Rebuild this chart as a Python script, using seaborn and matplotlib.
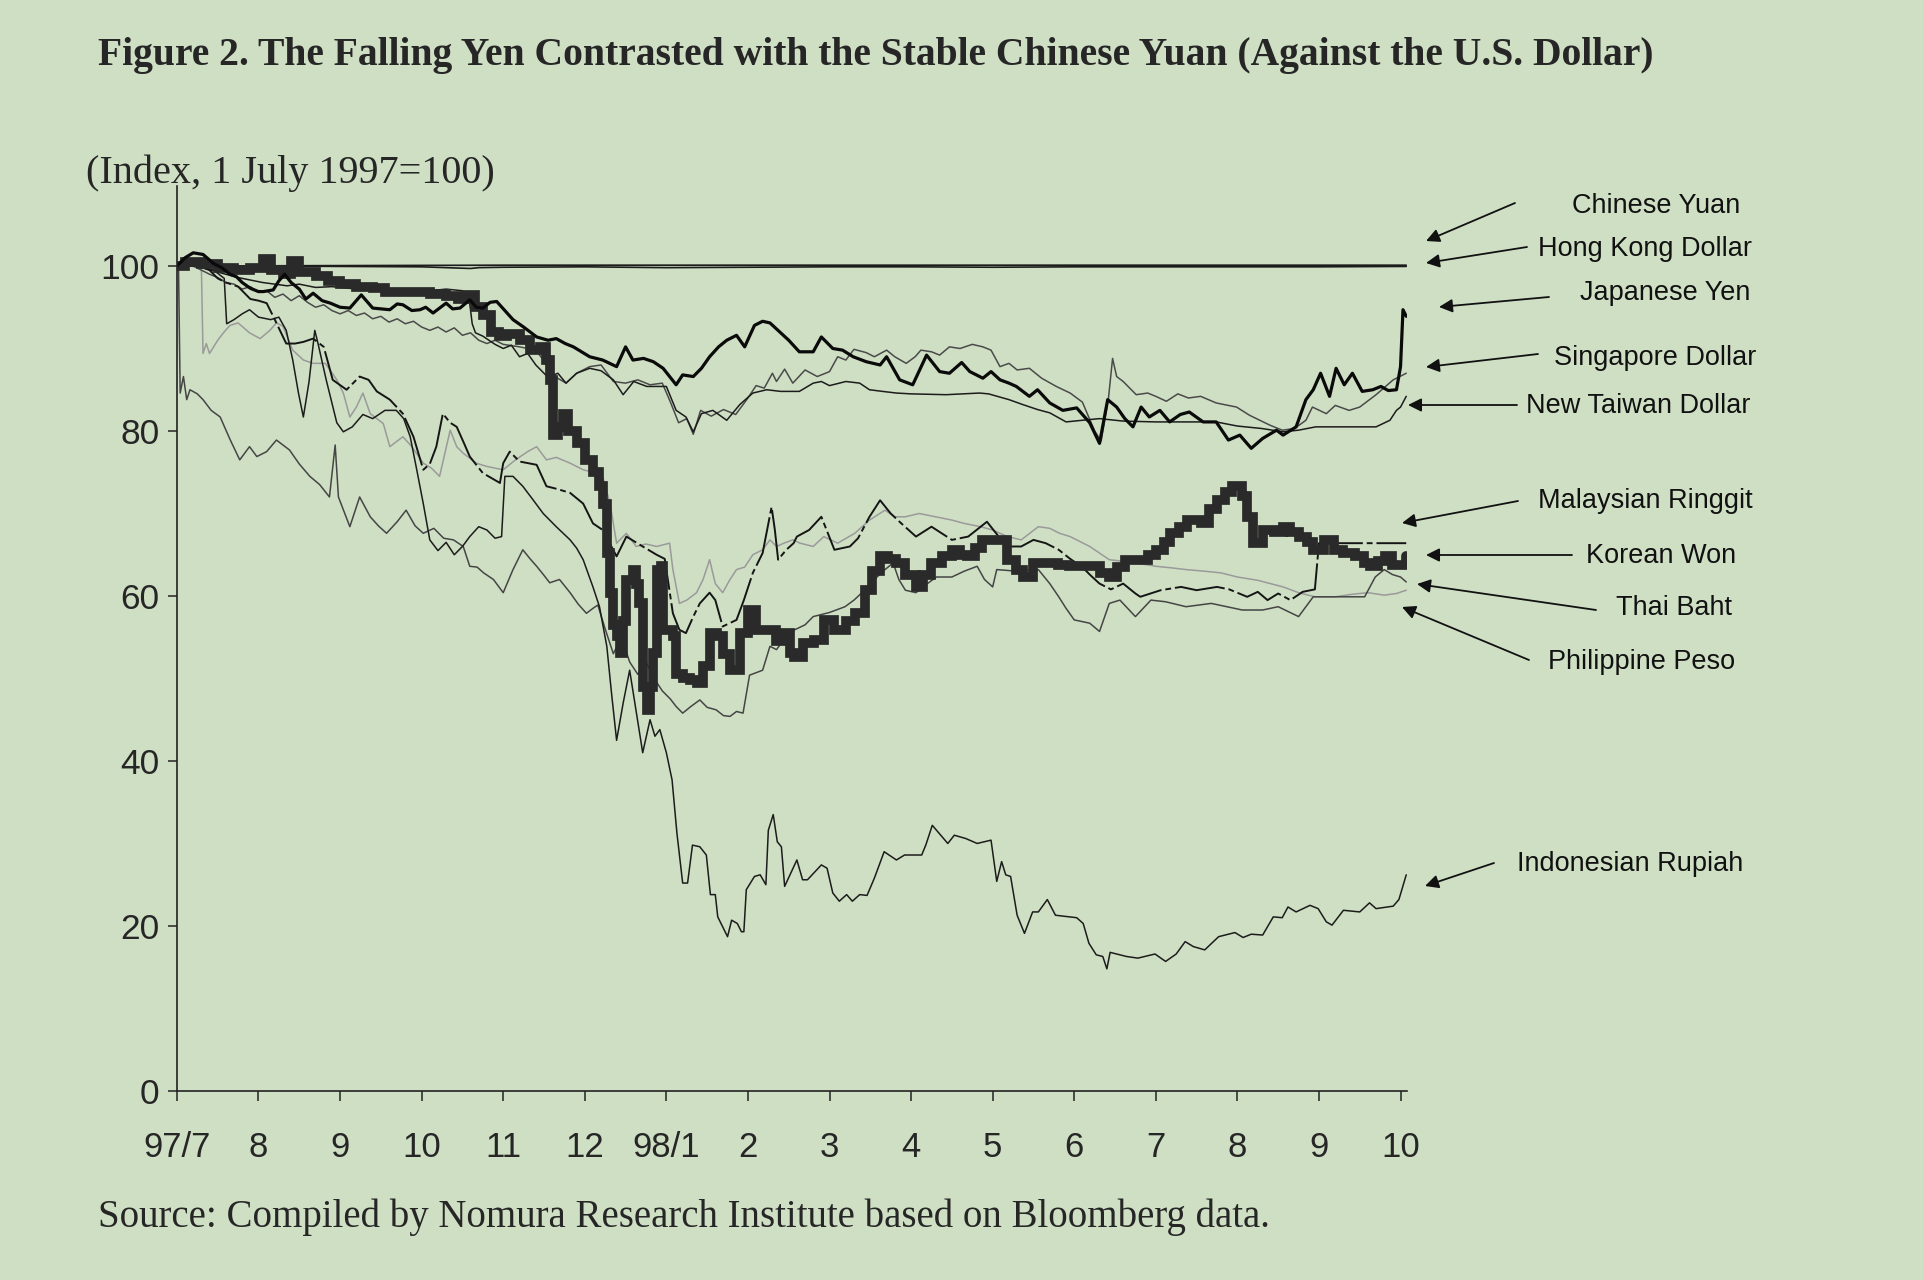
import matplotlib
matplotlib.use("Agg")
import matplotlib.pyplot as plt
import seaborn as sns
import pandas as pd

# months since 1997/7 (0 = 1 July 1997), index 1 July 1997 = 100
month_labels = ["97/7", "8", "9", "10", "11", "12", "98/1", "2", "3", "4", "5", "6", "7", "8", "9", "10"]
y_ticks = [0, 20, 40, 60, 80, 100]

chinese_yuan = [(0, 100.0), (2, 100.05), (4, 100.1), (6, 100.1), (8, 100.1), (10, 100.1),
                (12, 100.1), (14, 100.1), (15.07, 100.1)]

hk_dollar = [(0, 100.0), (1, 100.0), (2, 99.95), (3, 99.9), (3.6, 99.7), (3.7, 99.8), (4, 99.85),
             (5, 99.9), (6, 99.8), (7, 99.85), (8, 99.9), (9, 99.9), (10, 99.85), (11, 99.9),
             (12, 99.9), (13, 99.9), (14, 99.9), (15.07, 99.95)]

japanese_yen = [(0, 100), (0.1, 101.0), (0.2, 101.6), (0.32, 101.4), (0.45, 100.3), (0.55, 99.8),
                (0.65, 99.0), (0.73, 98.7), (0.8, 98.0), (0.9, 97.3), (1.0, 96.9), (1.06, 96.9),
                (1.18, 97.1), (1.25, 98.2), (1.32, 99.0), (1.4, 98.0), (1.5, 97.2), (1.58, 96.0),
                (1.67, 96.7), (1.78, 95.8), (1.88, 95.5), (2.0, 95.0), (2.12, 94.9), (2.26, 96.5),
                (2.4, 94.9), (2.5, 94.8), (2.61, 94.7), (2.7, 95.4), (2.77, 95.3), (2.88, 94.6),
                (2.98, 94.7), (3.05, 95.0), (3.14, 94.3), (3.22, 94.9), (3.3, 95.5), (3.38, 94.8),
                (3.47, 94.9), (3.59, 95.9), (3.67, 95.0), (3.75, 94.9), (3.84, 95.6), (3.92, 95.7),
                (4.02, 94.6), (4.12, 93.5), (4.25, 92.6), (4.41, 91.4), (4.55, 91.0), (4.65, 91.2),
                (4.76, 90.6), (4.86, 90.2), (4.96, 89.6), (5.06, 89.0), (5.22, 88.6), (5.39, 87.8),
                (5.5, 90.2), (5.59, 88.6), (5.72, 88.8), (5.84, 88.4), (5.96, 87.6), (6.12, 85.6),
                (6.2, 86.8), (6.33, 86.6), (6.43, 87.6), (6.53, 89.0), (6.64, 90.2), (6.74, 91.0),
                (6.86, 91.6), (6.96, 90.2), (7.08, 92.8), (7.18, 93.3), (7.27, 93.1), (7.39, 92.0),
                (7.5, 91.0), (7.63, 89.6), (7.8, 89.6), (7.9, 91.4), (8.04, 90.0), (8.16, 89.8),
                (8.29, 89.0), (8.45, 88.4), (8.62, 88.0), (8.7, 89.0), (8.86, 86.2), (9.02, 85.6),
                (9.19, 89.2), (9.35, 87.2), (9.47, 87.0), (9.62, 88.3), (9.72, 87.2), (9.88, 86.4),
                (9.98, 87.2), (10.09, 86.2), (10.2, 85.8), (10.29, 85.4), (10.45, 84.2), (10.55, 85.0),
                (10.7, 83.4), (10.86, 82.5), (11.03, 82.8), (11.19, 81.0), (11.31, 78.5), (11.41, 83.8),
                (11.52, 82.9), (11.62, 81.5), (11.72, 80.5), (11.82, 82.9), (11.92, 81.7), (12.05, 82.5),
                (12.17, 81.1), (12.3, 82.0), (12.41, 82.3), (12.58, 81.1), (12.74, 81.1), (12.89, 78.9),
                (13.03, 79.5), (13.17, 77.9), (13.31, 79.1), (13.48, 80.1), (13.56, 79.5), (13.72, 80.5),
                (13.84, 83.8), (13.93, 85.0), (14.02, 87.0), (14.13, 84.2), (14.21, 87.6), (14.31, 85.6),
                (14.41, 87.0), (14.53, 84.8), (14.66, 85.0), (14.76, 85.4), (14.85, 84.9), (14.95, 85.0),
                (15.0, 87.8), (15.03, 94.7), (15.07, 93.9)]

singapore_dollar = [(0, 100), (0.1, 100.2), (0.2, 100.0), (0.3, 99.5), (0.4, 99.0), (0.5, 98.6),
                    (0.6, 98.0), (0.7, 97.8), (0.8, 97.2), (0.9, 97.5), (1.0, 96.8), (1.1, 97.0),
                    (1.2, 96.2), (1.3, 96.6), (1.4, 95.8), (1.5, 96.4), (1.6, 95.6), (1.7, 95.0),
                    (1.8, 95.3), (1.9, 94.6), (2.0, 94.2), (2.1, 94.6), (2.2, 94.0), (2.3, 94.3),
                    (2.4, 93.6), (2.5, 93.9), (2.6, 93.2), (2.7, 93.6), (2.8, 93.0), (2.9, 93.3),
                    (3.0, 92.6), (3.1, 92.2), (3.2, 92.6), (3.3, 92.0), (3.4, 92.5), (3.5, 91.6),
                    (3.6, 91.9), (3.7, 91.0), (3.8, 90.6), (3.9, 91.0), (4.0, 90.5), (4.2, 90.2),
                    (4.4, 89.8), (4.5, 88.5), (4.65, 86.5), (4.77, 85.8), (4.9, 87.0), (5.06, 87.8),
                    (5.2, 88.0), (5.35, 86.0), (5.5, 85.8), (5.65, 86.2), (5.8, 85.6), (5.95, 85.8),
                    (6.05, 83.5), (6.15, 81.0), (6.25, 81.5), (6.33, 79.6), (6.42, 82.5), (6.55, 81.8),
                    (6.7, 82.6), (6.85, 82.0), (7.0, 84.0), (7.1, 85.5), (7.2, 85.2), (7.3, 87.0),
                    (7.35, 86.0), (7.45, 87.5), (7.55, 85.8), (7.7, 87.4), (7.85, 86.6), (8.0, 87.2),
                    (8.1, 89.0), (8.2, 88.6), (8.3, 89.9), (8.45, 89.5), (8.55, 89.0), (8.7, 89.8),
                    (8.8, 89.0), (8.94, 88.2), (9.05, 89.0), (9.12, 89.8), (9.25, 89.6), (9.35, 89.2),
                    (9.47, 90.2), (9.6, 90.0), (9.75, 90.5), (9.88, 90.2), (9.98, 89.8), (10.09, 87.8),
                    (10.2, 88.2), (10.3, 87.4), (10.45, 87.6), (10.6, 86.4), (10.78, 85.4), (10.95, 84.6),
                    (11.1, 83.5), (11.25, 80.0), (11.33, 78.8), (11.42, 84.0), (11.47, 88.8), (11.52, 86.6),
                    (11.6, 86.0), (11.76, 84.4), (11.9, 84.6), (12.0, 84.2), (12.13, 83.6), (12.27, 84.5),
                    (12.4, 84.0), (12.55, 84.2), (12.74, 83.4), (12.99, 82.9), (13.15, 81.9), (13.4, 80.7),
                    (13.55, 80.1), (13.7, 80.3), (13.84, 81.3), (13.92, 82.9), (14.09, 82.1), (14.2, 83.1),
                    (14.37, 82.5), (14.5, 82.9), (14.7, 84.4), (14.91, 86.2), (15.07, 87.0)]

taiwan_dollar = [(0, 100), (0.15, 100.2), (0.3, 99.8), (0.45, 99.4), (0.6, 99.0), (0.75, 98.6),
                 (0.9, 98.3), (1.05, 98.0), (1.2, 97.8), (1.35, 97.6), (1.5, 97.8), (1.7, 97.4),
                 (1.9, 97.5), (2.1, 97.3), (2.3, 97.2), (2.5, 97.3), (2.7, 97.1), (2.9, 97.2),
                 (3.1, 97.0), (3.3, 97.2), (3.5, 97.0), (3.58, 96.2), (3.62, 93.0), (3.66, 91.9),
                 (3.75, 91.5), (3.9, 90.5), (4.0, 90.0), (4.1, 90.4), (4.2, 89.0), (4.3, 89.4),
                 (4.4, 88.0), (4.55, 86.5), (4.67, 87.0), (4.77, 85.8), (4.9, 87.0), (5.06, 87.6),
                 (5.2, 87.3), (5.35, 86.2), (5.47, 84.4), (5.6, 86.0), (5.76, 85.4), (6.0, 85.4),
                 (6.12, 82.5), (6.24, 81.7), (6.33, 79.9), (6.43, 82.1), (6.57, 82.5), (6.74, 81.3),
                 (6.9, 83.2), (7.06, 84.6), (7.23, 85.0), (7.4, 84.8), (7.63, 84.8), (7.8, 85.8),
                 (7.9, 86.0), (8.0, 85.5), (8.2, 86.0), (8.37, 85.8), (8.49, 85.0), (8.65, 84.8),
                 (8.82, 84.6), (9.0, 84.5), (9.43, 84.4), (9.84, 84.6), (9.95, 84.5), (10.2, 83.8),
                 (10.37, 83.2), (10.55, 82.6), (10.7, 82.2), (10.9, 81.1), (11.1, 81.3), (11.31, 81.5),
                 (11.6, 81.2), (12.0, 81.1), (12.5, 81.1), (12.74, 81.1), (13.0, 80.6), (13.3, 80.3),
                 (13.56, 79.9), (13.75, 80.1), (13.96, 80.5), (14.3, 80.5), (14.7, 80.5), (14.87, 81.3),
                 (14.95, 82.5), (15.0, 82.9), (15.07, 84.2)]

malaysian_ringgit = [(0, 100), (0.2, 100.3), (0.4, 99.5), (0.5, 98.5), (0.6, 98.0), (0.75, 97.5),
                     (0.9, 96.0), (1.0, 95.8), (1.1, 95.5), (1.2, 93.5), (1.34, 90.6), (1.45, 90.6),
                     (1.55, 90.8), (1.67, 91.2), (1.8, 90.2), (1.91, 86.2), (2.08, 85.0), (2.24, 86.6),
                     (2.35, 86.2), (2.45, 84.8), (2.61, 83.8), (2.77, 82.1), (2.9, 79.3), (3.02, 75.3),
                     (3.1, 76.0), (3.18, 78.1), (3.26, 82.1), (3.35, 81.0), (3.43, 80.5), (3.52, 78.5),
                     (3.59, 76.9), (3.75, 74.9), (3.96, 73.7), (4.0, 76.1), (4.08, 77.5), (4.2, 76.3),
                     (4.41, 75.9), (4.53, 73.3), (4.65, 73.0), (4.82, 72.5), (4.98, 71.2), (5.1, 68.8),
                     (5.22, 68.0), (5.39, 64.8), (5.51, 67.2), (5.71, 66.0), (5.88, 65.0), (5.98, 64.5),
                     (6.08, 57.9), (6.16, 55.9), (6.24, 55.5), (6.33, 57.5), (6.41, 59.1), (6.53, 60.4),
                     (6.6, 59.5), (6.69, 56.3), (6.86, 57.1), (6.95, 59.5), (7.06, 62.8), (7.18, 65.2),
                     (7.29, 70.8), (7.33, 68.0), (7.37, 64.4), (7.47, 65.6), (7.56, 66.4), (7.6, 67.2),
                     (7.75, 68.0), (7.9, 69.6), (8.06, 65.6), (8.25, 66.0), (8.35, 67.0), (8.49, 69.6),
                     (8.62, 71.6), (8.75, 70.0), (8.88, 68.8), (9.06, 67.2), (9.25, 68.4), (9.5, 66.8),
                     (9.7, 67.2), (9.93, 69.0), (10.05, 67.5), (10.18, 66.0), (10.35, 66.0), (10.5, 66.8),
                     (10.65, 66.4), (10.81, 65.6), (10.95, 64.5), (11.1, 63.5), (11.2, 62.5), (11.31, 61.5),
                     (11.45, 60.8), (11.6, 61.5), (11.75, 60.3), (11.81, 59.9), (12.06, 60.7), (12.31, 61.1),
                     (12.5, 60.7), (12.75, 61.1), (12.9, 60.8), (13.12, 59.9), (13.25, 60.5), (13.37, 59.5),
                     (13.5, 60.3), (13.65, 59.5), (13.8, 60.5), (13.95, 60.8), (14.0, 66.4), (15.07, 66.4)]

korean_won = [(0, 100), (0.1, 100.5), (0.3, 100.2), (0.5, 99.8), (0.7, 99.5), (0.9, 99.8), (1.05, 100.8),
              (1.15, 99.5), (1.3, 99.0), (1.4, 100.6), (1.5, 99.3), (1.7, 98.8), (1.85, 98.2), (2.0, 97.8),
              (2.2, 97.5), (2.4, 97.3), (2.55, 96.8), (2.7, 96.8), (2.9, 96.8), (3.1, 96.6), (3.3, 96.4),
              (3.45, 96.0), (3.55, 96.5), (3.65, 95.0), (3.75, 94.0), (3.85, 92.0), (3.95, 91.5),
              (4.05, 91.8), (4.2, 91.0), (4.33, 89.8), (4.45, 90.2), (4.53, 88.6), (4.57, 86.2),
              (4.61, 79.5), (4.67, 80.5), (4.73, 82.1), (4.8, 80.0), (4.9, 78.5), (5.0, 76.5), (5.1, 75.0),
              (5.18, 73.3), (5.22, 71.2), (5.27, 65.2), (5.31, 60.4), (5.35, 56.5), (5.39, 55.1),
              (5.43, 53.1), (5.47, 57.0), (5.51, 61.9), (5.59, 63.2), (5.63, 61.5), (5.67, 59.1),
              (5.71, 49.0), (5.76, 46.2), (5.8, 49.0), (5.84, 53.1), (5.88, 63.2), (5.94, 63.6),
              (5.96, 55.9), (6.08, 55.1), (6.12, 50.6), (6.2, 50.0), (6.29, 49.8), (6.37, 49.4),
              (6.45, 51.5), (6.53, 55.5), (6.62, 55.1), (6.7, 53.0), (6.78, 51.0), (6.9, 55.5), (7.0, 58.3),
              (7.1, 55.9), (7.24, 55.9), (7.35, 54.5), (7.43, 55.5), (7.51, 53.1), (7.56, 52.6),
              (7.67, 54.3), (7.81, 54.7), (7.93, 57.1), (8.05, 55.9), (8.12, 55.9), (8.2, 57.0),
              (8.31, 57.9), (8.43, 60.7), (8.52, 63.0), (8.62, 64.8), (8.72, 64.5), (8.81, 64.0),
              (8.93, 62.5), (9.06, 61.1), (9.15, 62.5), (9.25, 64.0), (9.38, 64.8), (9.5, 65.6),
              (9.6, 65.0), (9.68, 64.8), (9.78, 65.8), (9.87, 66.8), (10.06, 66.8), (10.18, 64.4),
              (10.28, 63.2), (10.37, 62.3), (10.5, 64.0), (10.69, 64.0), (10.8, 63.8), (10.93, 63.6),
              (11.12, 63.6), (11.31, 62.8), (11.43, 62.3), (11.52, 63.5), (11.62, 64.4), (11.81, 64.4),
              (11.9, 65.0), (12.0, 65.6), (12.1, 66.5), (12.18, 67.6), (12.28, 68.4), (12.38, 69.2),
              (12.56, 68.8), (12.65, 70.5), (12.75, 71.6), (12.85, 72.6), (12.94, 73.3), (13.06, 72.1),
              (13.12, 69.6), (13.19, 66.4), (13.31, 68.0), (13.45, 67.8), (13.56, 68.4), (13.65, 67.8),
              (13.75, 67.2), (13.85, 66.5), (13.93, 65.6), (14.06, 66.8), (14.19, 65.6), (14.3, 65.2),
              (14.44, 64.8), (14.55, 64.0), (14.62, 63.6), (14.72, 64.2), (14.81, 64.8), (14.9, 63.8),
              (15.07, 64.8)]

thai_baht = [(0, 100), (0.02, 99.5), (0.04, 84.6), (0.08, 86.6), (0.12, 83.8), (0.16, 85.0), (0.25, 84.5),
             (0.32, 83.8), (0.42, 82.5), (0.53, 81.7), (0.65, 79.0), (0.77, 76.5), (0.89, 78.1), (0.98, 76.9),
             (1.1, 77.5), (1.22, 78.9), (1.38, 77.7), (1.5, 76.0), (1.63, 74.5), (1.75, 73.5), (1.87, 72.0),
             (1.94, 78.3), (1.98, 72.0), (2.12, 68.4), (2.24, 72.0), (2.37, 69.6), (2.47, 68.5), (2.57, 67.6),
             (2.7, 69.0), (2.81, 70.4), (2.92, 68.5), (3.02, 67.6), (3.15, 68.2), (3.27, 67.0), (3.39, 66.8),
             (3.51, 66.0), (3.59, 63.6), (3.68, 63.5), (3.76, 62.8), (3.88, 62.0), (4.0, 60.4), (4.12, 63.2),
             (4.24, 65.6), (4.33, 64.5), (4.41, 63.6), (4.5, 62.5), (4.57, 61.6), (4.69, 62.0), (4.82, 60.4),
             (4.92, 59.0), (5.02, 57.9), (5.1, 58.5), (5.16, 58.9), (5.25, 56.0), (5.35, 53.0), (5.45, 55.0),
             (5.55, 52.0), (5.65, 50.5), (5.75, 52.0), (5.85, 50.0), (5.95, 48.5), (6.05, 47.5), (6.12, 46.6),
             (6.2, 45.8), (6.3, 46.6), (6.41, 47.4), (6.5, 46.5), (6.61, 46.2), (6.7, 45.5), (6.78, 45.4),
             (6.86, 46.0), (6.94, 45.8), (7.02, 50.4), (7.18, 51.0), (7.27, 53.9), (7.35, 53.5), (7.44, 54.7),
             (7.55, 55.8), (7.7, 56.5), (7.8, 57.5), (8.0, 58.0), (8.19, 58.7), (8.3, 59.5), (8.43, 60.7),
             (8.55, 62.0), (8.68, 63.2), (8.78, 64.0), (8.85, 62.0), (8.93, 60.7), (9.06, 60.4), (9.2, 61.5),
             (9.31, 62.3), (9.5, 62.3), (9.65, 63.0), (9.81, 63.6), (9.9, 62.0), (10.0, 61.1), (10.05, 63.2),
             (10.3, 63.0), (10.56, 63.2), (10.7, 61.5), (10.81, 59.9), (10.9, 58.5), (11.0, 57.1),
             (11.19, 56.7), (11.31, 55.7), (11.43, 59.1), (11.56, 59.5), (11.75, 57.5), (11.94, 59.5),
             (12.12, 59.3), (12.37, 58.7), (12.68, 59.1), (12.87, 58.7), (13.06, 58.3), (13.31, 58.3),
             (13.5, 58.7), (13.75, 57.5), (13.93, 59.9), (14.2, 59.9), (14.56, 59.9), (14.69, 62.3),
             (14.8, 63.2), (14.9, 62.6), (15.0, 62.3), (15.07, 61.7)]

philippine_peso = [(0, 100), (0.15, 100), (0.3, 99.8), (0.32, 89.4), (0.36, 90.6), (0.4, 89.4), (0.5, 91.0),
                   (0.57, 91.9), (0.65, 92.8), (0.75, 93.1), (0.89, 91.9), (1.02, 91.2), (1.14, 92.2),
                   (1.22, 93.1), (1.3, 92.7), (1.42, 89.8), (1.55, 88.6), (1.67, 88.2), (1.82, 88.2),
                   (1.96, 86.2), (2.04, 84.6), (2.12, 81.7), (2.2, 82.9), (2.28, 84.6), (2.37, 82.1),
                   (2.53, 80.9), (2.61, 78.1), (2.77, 79.3), (2.88, 78.1), (3.02, 76.1), (3.12, 75.5),
                   (3.22, 74.5), (3.35, 80.1), (3.43, 78.1), (3.51, 77.3), (3.67, 76.1), (3.8, 75.7),
                   (4.0, 75.3), (4.15, 76.5), (4.3, 77.5), (4.41, 78.1), (4.53, 76.5), (4.65, 76.8),
                   (4.82, 76.1), (4.98, 75.3), (5.1, 75.0), (5.22, 74.5), (5.31, 71.2), (5.39, 66.4),
                   (5.51, 67.6), (5.63, 66.0), (5.75, 66.3), (5.88, 66.0), (6.04, 66.4), (6.08, 63.2),
                   (6.16, 59.1), (6.25, 59.5), (6.37, 60.4), (6.45, 62.0), (6.53, 64.4), (6.6, 61.5),
                   (6.69, 60.4), (6.78, 62.0), (6.86, 63.2), (6.96, 63.5), (7.06, 65.0), (7.18, 65.6),
                   (7.27, 66.8), (7.35, 66.0), (7.44, 66.4), (7.55, 66.8), (7.64, 66.4), (7.8, 66.0),
                   (7.93, 67.2), (8.1, 66.4), (8.31, 67.6), (8.49, 69.2), (8.68, 70.4), (8.8, 69.6),
                   (8.93, 69.6), (9.1, 70.0), (9.3, 69.6), (9.5, 69.2), (9.65, 68.8), (9.85, 68.4),
                   (10.0, 68.0), (10.18, 67.2), (10.35, 66.8), (10.56, 68.4), (10.7, 68.2), (10.82, 67.6),
                   (10.95, 67.2), (11.19, 66.0), (11.31, 65.2), (11.43, 64.4), (11.6, 64.2), (11.75, 64.0),
                   (12.0, 63.6), (12.2, 63.4), (12.37, 63.2), (12.6, 63.0), (12.8, 62.8), (13.0, 62.3),
                   (13.25, 61.9), (13.56, 61.1), (13.75, 60.4), (13.95, 59.9), (14.2, 59.9), (14.4, 60.2),
                   (14.6, 60.4), (14.8, 60.1), (14.95, 60.3), (15.07, 60.7)]

indonesian_rupiah = [(0, 100), (0.15, 100.2), (0.3, 100.0), (0.45, 99.5), (0.58, 98.5), (0.61, 93.0),
                     (0.7, 93.5), (0.8, 94.2), (0.89, 94.7), (1.0, 93.8), (1.15, 93.5), (1.25, 93.8),
                     (1.34, 92.2), (1.42, 88.6), (1.49, 84.6), (1.55, 81.7), (1.62, 86.0), (1.69, 92.2),
                     (1.73, 90.6), (1.83, 86.2), (1.96, 81.0), (2.04, 79.9), (2.15, 80.5), (2.28, 82.0),
                     (2.4, 81.5), (2.55, 82.5), (2.69, 82.5), (2.78, 81.5), (2.86, 79.3), (2.94, 75.3),
                     (3.02, 71.2), (3.1, 66.8), (3.2, 65.5), (3.3, 66.5), (3.4, 65.0), (3.5, 66.0),
                     (3.59, 67.2), (3.7, 68.4), (3.8, 68.0), (3.9, 67.0), (3.98, 67.2), (4.02, 74.5),
                     (4.12, 74.5), (4.24, 73.3), (4.37, 71.6), (4.49, 70.0), (4.65, 68.4), (4.82, 66.8),
                     (4.9, 65.8), (4.98, 64.4), (5.1, 61.1), (5.18, 58.7), (5.27, 53.9), (5.33, 48.0),
                     (5.39, 42.5), (5.47, 47.0), (5.55, 51.0), (5.63, 46.0), (5.71, 41.0), (5.8, 45.0),
                     (5.86, 43.0), (5.92, 43.8), (6.0, 41.0), (6.07, 37.7), (6.13, 31.2), (6.2, 25.2),
                     (6.26, 25.2), (6.32, 29.8), (6.41, 29.6), (6.49, 28.6), (6.54, 23.8), (6.6, 23.8),
                     (6.63, 21.1), (6.75, 18.7), (6.8, 20.7), (6.87, 20.3), (6.92, 19.3), (6.95, 19.3),
                     (6.98, 24.4), (7.08, 26.0), (7.15, 26.2), (7.22, 25.0), (7.25, 31.6), (7.31, 33.5),
                     (7.36, 30.2), (7.41, 29.6), (7.45, 24.8), (7.6, 28.0), (7.67, 25.6), (7.73, 25.6),
                     (7.9, 27.4), (7.97, 27.0), (8.04, 24.0), (8.12, 23.0), (8.21, 23.8), (8.28, 23.0),
                     (8.37, 23.8), (8.46, 23.7), (8.55, 25.8), (8.67, 29.0), (8.82, 28.0), (8.92, 28.6),
                     (9.13, 28.6), (9.18, 29.8), (9.26, 32.2), (9.45, 30.0), (9.53, 31.0), (9.67, 30.6),
                     (9.81, 30.0), (9.98, 30.4), (10.05, 25.4), (10.11, 27.8), (10.16, 26.2), (10.22, 26.0),
                     (10.3, 21.3), (10.39, 19.1), (10.49, 21.7), (10.56, 21.7), (10.67, 23.2), (10.77, 21.3),
                     (11.03, 21.0), (11.11, 20.3), (11.18, 17.9), (11.27, 16.5), (11.35, 16.3), (11.4, 14.8),
                     (11.44, 16.8), (11.64, 16.3), (11.78, 16.1), (11.99, 16.6), (12.12, 15.7), (12.25, 16.6),
                     (12.36, 18.1), (12.46, 17.5), (12.6, 17.1), (12.77, 18.7), (12.97, 19.2), (13.07, 18.6),
                     (13.17, 19.0), (13.31, 18.9), (13.44, 21.1), (13.55, 21.0), (13.62, 22.3), (13.72, 21.7),
                     (13.89, 22.5), (13.99, 22.1), (14.09, 20.5), (14.16, 20.1), (14.3, 21.9), (14.5, 21.7),
                     (14.62, 22.8), (14.7, 22.1), (14.91, 22.4), (14.98, 23.2), (15.07, 26.2)]

bg = "#cfdfc4"

sns.set_style("ticks")
plt.rcParams["font.family"] = ["Liberation Sans", "DejaVu Sans"]

fig = plt.figure(figsize=(19.23, 12.8), dpi=100, facecolor=bg)
ax = fig.add_axes([0.092, 0.1477, 0.6397, 0.707])
ax.set_facecolor(bg)


def draw(series, color, lw, **kw):
    df = pd.DataFrame(series, columns=["month", "index"])
    sns.lineplot(data=df, x="month", y="index", ax=ax, color=color, linewidth=lw,
                 estimator=None, sort=False, **kw)


draw(philippine_peso, "#9a9a9a", 1.1)
draw(thai_baht, "#454545", 1.1)
draw(singapore_dollar, "#4a4a4a", 1.1)
draw(taiwan_dollar, "#1c1c1c", 1.1)
draw(indonesian_rupiah, "#1c1c1c", 1.1)
draw(malaysian_ringgit, "#151515", 1.4, linestyle=(0, (26, 2, 3, 2)))
draw(hk_dollar, "#1c1c1c", 1.2)
draw(chinese_yuan, "#1c1c1c", 1.2)
draw(korean_won, "#2a2a2a", 7, drawstyle="steps-post", solid_joinstyle="miter")
draw(japanese_yen, "#0a0a0a", 2.3)

ax.set_xlim(0, 15.08)
ax.set_ylim(0, 109.7)
ax.set_xticks(range(len(month_labels)))
ax.set_xticklabels(month_labels)
ax.set_yticks(y_ticks)
ax.set_xlabel("")
ax.set_ylabel("")
for s in ["top", "right"]:
    ax.spines[s].set_visible(False)
for s in ["left", "bottom"]:
    ax.spines[s].set_color("#222222")
    ax.spines[s].set_linewidth(1.2)
ax.tick_params(axis="x", direction="out", length=7, width=1.1, color="#222222",
               labelsize=25, pad=22)
ax.tick_params(axis="y", direction="out", length=6.5, width=1.1, color="#222222",
               labelsize=25.5, pad=6)

serif = ["Liberation Serif", "DejaVu Serif"]
fig.text(98 / 1923, 1 - 55 / 1280,
         "Figure 2. The Falling Yen Contrasted with the Stable Chinese Yuan (Against the U.S. Dollar)",
         family=serif, weight="bold", size=28.5, ha="left", va="center")
fig.text(86 / 1923, 1 - 173 / 1280, "(Index, 1 July 1997=100)", family=serif, size=29,
         ha="left", va="center")
fig.text(98 / 1923, 1 - 1217 / 1280,
         "Source: Compiled by Nomura Research Institute based on Bloomberg data.",
         family=serif, size=28, ha="left", va="center")

# right-hand labels with arrows (pixel positions in the 1923x1280 canvas)
labels = [
    ("Chinese Yuan", 1656, 206, (1515, 203), (1426, 241)),
    ("Hong Kong Dollar", 1645, 249, (1527, 247), (1426, 263)),
    ("Japanese Yen", 1665, 293, (1549, 297), (1439, 307)),
    ("Singapore Dollar", 1655, 358, (1538, 354), (1426, 367)),
    ("New Taiwan Dollar", 1638, 406, (1517, 405), (1408, 405)),
    ("Malaysian Ringgit", 1645, 501, (1518, 501), (1402, 523)),
    ("Korean Won", 1661, 556, (1572, 555), (1426, 555)),
    ("Thai Baht", 1674, 608, (1596, 610), (1417, 584)),
    ("Philippine Peso", 1642, 662, (1529, 660), (1402, 607)),
    ("Indonesian Rupiah", 1630, 864, (1494, 863), (1425, 886)),
]
W, H = 1923, 1280
for name, tx, ty, tail, head in labels:
    fig.text(tx / W, 1 - ty / H, name, size=19.5, ha="center", va="center", color="#111111")
    ax.annotate("", xy=(head[0] / W, 1 - head[1] / H), xycoords="figure fraction",
                xytext=(tail[0] / W, 1 - tail[1] / H), textcoords="figure fraction",
                annotation_clip=False,
                arrowprops=dict(arrowstyle="-|>", color="#111111", lw=1.3,
                                mutation_scale=20, shrinkA=0, shrinkB=0))

fig.savefig("out.png", dpi=100, facecolor=bg)
